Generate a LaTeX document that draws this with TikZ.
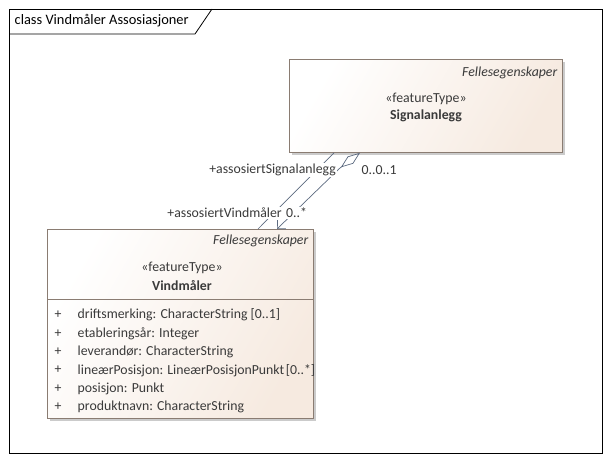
\documentclass[tikz,border=0pt]{standalone}
\usepackage{fontspec}
\setmainfont{Carlito}
\usetikzlibrary{arrows.meta,shadows}
\definecolor{boxline}{HTML}{8A7C72}
\definecolor{boxbeige}{HTML}{F6EAE0}
\definecolor{txt}{HTML}{3A3A3A}
\definecolor{conn}{HTML}{5C6A80}
\tikzset{
  umlbox/.style={draw=boxline, line width=0.8pt, left color=white, right color=boxbeige,
    shading angle=60, rectangle, inner sep=0pt,
    drop shadow={shadow xshift=3pt, shadow yshift=-3pt, fill=black!40, opacity=0.5}},
  lbl/.style={font=\fontsize{13.8}{16}\selectfont, text=txt, inner sep=0.5pt},
  ital/.style={lbl, font=\fontsize{13.8}{16}\selectfont\itshape},
  bld/.style={lbl, font=\fontsize{13.8}{16}\selectfont\bfseries},
  rolelbl/.style={lbl, fill=white, inner sep=1pt},
  conline/.style={draw=conn, line width=0.7pt},
}
\begin{document}
\begin{tikzpicture}[x=1pt,y=-1pt]
\useasboundingbox (0,0) rectangle (611,463);
\fill[white] (0,0) rectangle (611,463);
% frame
\node[draw=black, line width=0.8pt, minimum width=593pt, minimum height=444pt, anchor=north west, inner sep=0pt] (frame) at (9,9) {};
\draw[line width=0.8pt] (9,34) -- (195,34) -- (212,9);
\node[lbl, text=black, font=\fontsize{14.4}{16}\selectfont, anchor=west] (title) at (14,21) {class Vindmåler Assosiasjoner};
% Signalanlegg
\node[umlbox, minimum width=273pt, minimum height=93pt, anchor=north west] (sig) at (289,59) {};
\node[ital, anchor=east] (sigpkg) at (558,73) {Fellesegenskaper};
\node[lbl] (sigst) at (426,99) {«featureType»};
\node[bld] (signame) at (426,116) {Signalanlegg};
% Vindmaaler
\node[umlbox, minimum width=266pt, minimum height=189pt, anchor=north west] (vind) at (47,229) {};
\draw[boxline, line width=0.8pt] (vind.west |- 0,299) -- (vind.east |- 0,299);
\node[ital, anchor=east] (vindpkg) at (309,241) {Fellesegenskaper};
\node[lbl] (vindst) at (182,268) {«featureType»};
\node[bld] (vindname) at (182,286) {Vindmåler};
\foreach \i/\t in {0/{driftsmerking: CharacterString [0..1]},1/{etableringsår: Integer},2/{leverandør: CharacterString},3/{lineærPosisjon: LineærPosisjonPunkt\kern-1.5pt{} [0..*]},4/{posisjon: Punkt},5/{produktnavn: CharacterString}}{
  \node[lbl, anchor=west] (plus\i) at (54,315+18.4*\i) {+};
  \node[lbl, anchor=west] (attr\i) at (77,315+18.4*\i) {\t};
}
% connectors
\coordinate (a1) at (sig.south west -| 360,0);
\coordinate (a2) at (340,168);
\coordinate (a3) at (vind.north west -| 277,0);
\coordinate (b1) at (sig.south west -| 334,0);
\coordinate (b2) at (vind.north west -| 258,0);
\draw[conline] (b1) -- (b2);
\draw[conline, {Diamond[open, length=24pt, width=9pt]}-{Straight Barb[length=6pt, width=12pt]}] (a1) -- (a2) -- (a3);
% role labels
\node[rolelbl, anchor=east] (r1) at (337,170) {+assosiertSignalanlegg};
\node[lbl, anchor=west] (m1) at (361,170) {0..0..1};
\node[rolelbl, anchor=east] (r2) at (283,213) {+assosiertVindmåler};
\node[rolelbl, anchor=west] (m2) at (285,213) {0..*};
\end{tikzpicture}
\end{document}
